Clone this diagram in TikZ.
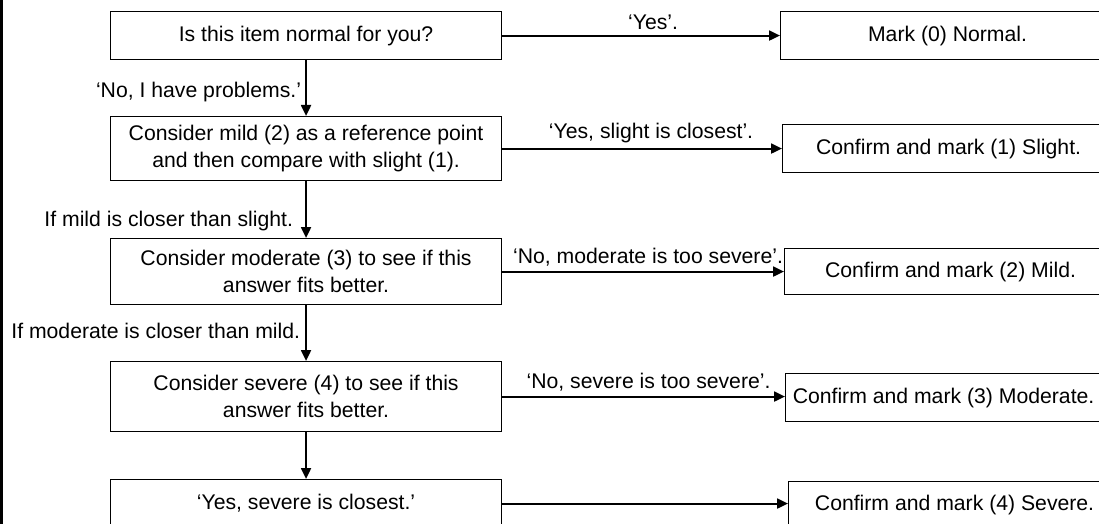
\documentclass[tikz,border=0pt]{standalone}
\usepackage{fontspec}
\setmainfont{Liberation Sans}
\usetikzlibrary{arrows.meta}
\begin{document}
\begin{tikzpicture}[x=1pt,y=-1pt,
  box/.style={draw=black, line width=1.1pt, inner sep=0pt, anchor=north west,
    align=center, font=\fontsize{21.2}{27}\selectfont},
  lbox/.style={box, minimum width=391pt},
  rbox/.style={box, minimum width=332pt},
  flow/.style={draw=black, line width=2pt, -{Triangle[length=11pt,width=10pt]}},
  lab/.style={inner sep=0pt, font=\fontsize{21.2}{24}\selectfont},
  frame/.style={line width=2.6pt, draw=black}]
\useasboundingbox (0,0) rectangle (1099,524);
\clip (0,0) rectangle (1099,524);
\fill[white] (0,0) rectangle (1099,524);
\draw[frame] (1.3,0) -- (1.3,524);

% left column
\node[lbox, minimum height=48pt] (b1) at (110,11) {Is this item normal for you?};
\node[lbox, minimum height=64pt] (b2) at (110,116) {Consider mild (2) as a reference point\\and then compare with slight (1).};
\node[lbox, minimum height=66pt] (b3) at (110,238) {Consider moderate (3) to see if this\\answer fits better.};
\node[lbox, minimum height=70pt] (b4) at (110,361) {Consider severe (4) to see if this\\answer fits better.};
\node[lbox, minimum height=48pt] (b5) at (110,479) {‘Yes, severe is closest.’};

% right column
\node[rbox, minimum height=48pt, minimum width=334pt] (r0) at (780,11) {Mark (0) Normal.};
\node[rbox, minimum height=48pt] (r1) at (782,124) {Confirm and mark (1) Slight.};
\node[rbox, minimum height=46pt] (r2) at (784,248) {Confirm and mark (2) Mild.};
\node[rbox, minimum height=48pt, minimum width=316pt] (r3) at (785,373) {Confirm and mark (3) Moderate.};
\node[rbox, minimum height=46pt] (r4) at (788,481) {Confirm and mark (4) Severe.};

% horizontal connectors
\draw[flow] (b1.east) -- node[lab, midway, above=5pt, xshift=12pt] {‘Yes’.} (b1.east -| r0.west);
\draw[flow] (b2.east) -- node[lab, midway, above=5pt, xshift=9pt] {‘Yes, slight is closest’.} (b2.east -| r1.west);
\draw[flow] (b3.east) -- node[lab, midway, above=4pt, xshift=5pt] {‘No, moderate is too severe’.} (b3.east -| r2.west);
\draw[flow] (b4.east) -- node[lab, midway, above=4pt, xshift=5pt] {‘No, severe is too severe’.} (b4.east -| r3.west);
\draw[flow] (b5.east) -- (b5.east -| r4.west);

% vertical connectors
\draw[flow] (b1.south) -- node[lab, pos=0.57, left=4pt] {‘No, I have problems.’} (b2.north);
\draw[flow] (b2.south) -- node[lab, pos=0.7, left=12pt] {If mild is closer than slight.} (b3.north);
\draw[flow] (b3.south) -- node[lab, pos=0.46, left=5pt] {If moderate is closer than mild.} (b4.north);
\draw[flow] (b4.south) -- (b5.north);
\end{tikzpicture}
\end{document}
